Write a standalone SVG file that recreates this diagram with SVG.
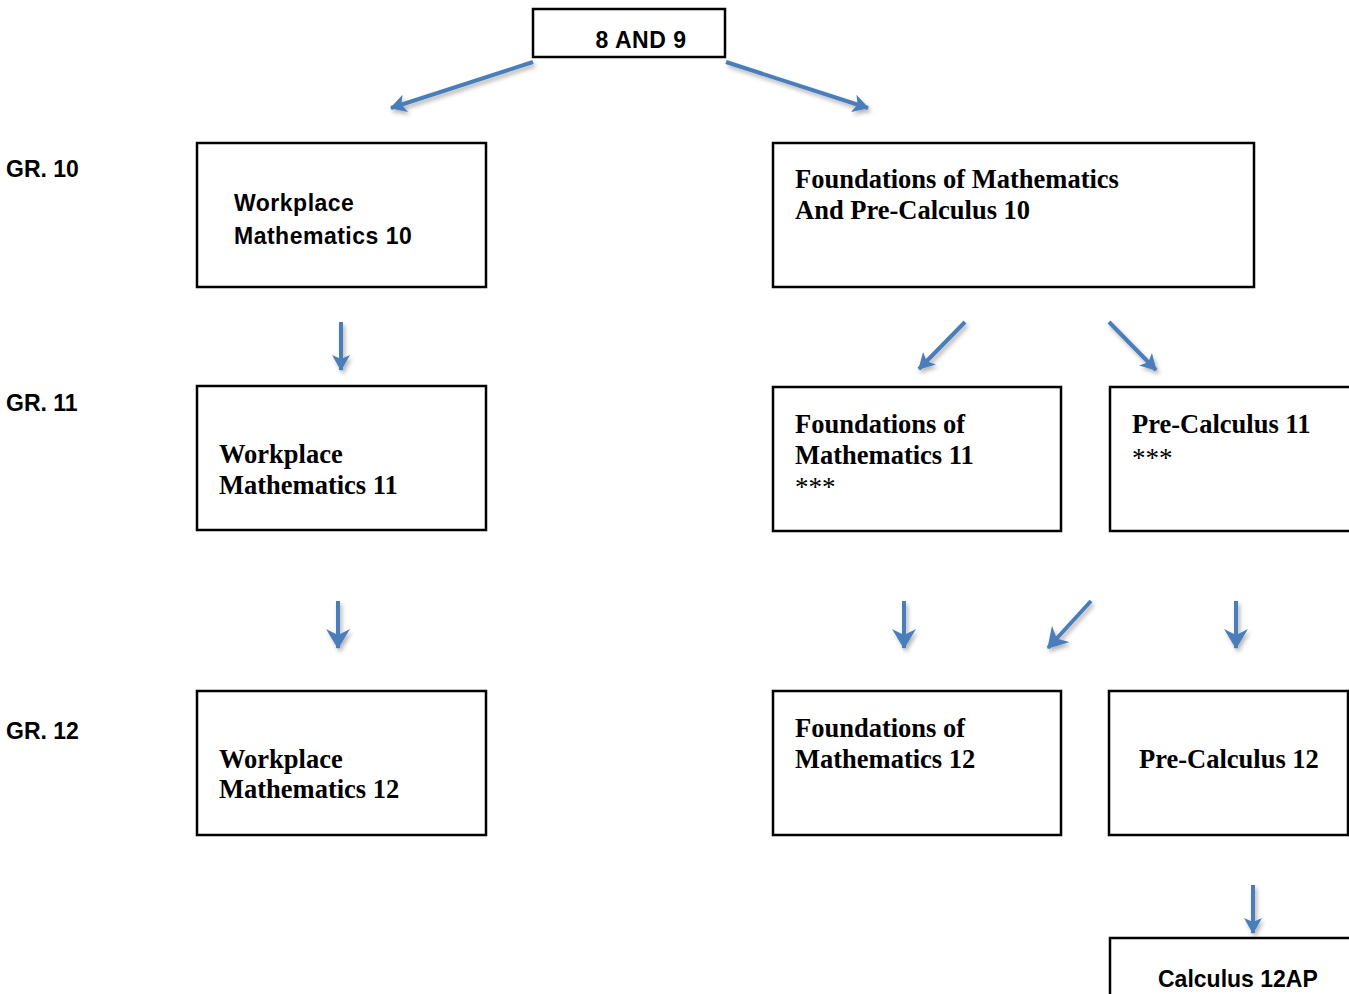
<svg xmlns="http://www.w3.org/2000/svg" width="1349" height="994" viewBox="0 0 1349 994">
<style>
.box{fill:#fff;stroke:#000;stroke-width:2.5}
.sans{font-family:"Liberation Sans",Arial,sans-serif;font-weight:bold;font-size:23px;letter-spacing:0.5px;fill:#000}
.tight{letter-spacing:0}
.serif{font-family:"Liberation Serif","Times New Roman",serif;font-weight:bold;font-size:26.5px;fill:#000}
.ast{font-family:"Liberation Serif","Times New Roman",serif;font-weight:normal;font-size:27px;fill:#000}
.conn line{stroke:#4a7ebb;stroke-width:4;fill:none}
</style>
<defs>
<filter id="sh" filterUnits="userSpaceOnUse" x="0" y="0" width="1349" height="994">
<feDropShadow dx="2" dy="3" stdDeviation="2" flood-color="#000" flood-opacity="0.3"/>
</filter>
<marker id="ah" markerUnits="userSpaceOnUse" viewBox="0 0 16 18" refX="15" refY="9" markerWidth="16" markerHeight="18" orient="auto">
<path d="M0,0 L16,9 L0,18 L4,9 z" fill="#4a7ebb"/>
</marker>
<marker id="ahb" markerUnits="userSpaceOnUse" viewBox="0 0 20 24" refX="19" refY="12" markerWidth="20" markerHeight="24" orient="auto">
<path d="M0,0 L20,12 L0,24 L6,12 z" fill="#4a7ebb"/>
</marker>
</defs>
<rect width="1349" height="994" fill="#fff"/>

<g id="labels">
<text class="sans tight" x="6" y="177">GR. 10</text>
<text class="sans tight" x="6" y="411">GR. 11</text>
<text class="sans tight" x="6" y="739">GR. 12</text>
</g>

<g id="n89"><rect class="box" x="533" y="9" width="192" height="48"/><text class="sans" x="641" y="48" text-anchor="middle">8 AND 9</text></g>
<g id="wp10"><rect class="box" x="197" y="143" width="289" height="144"/><text class="sans" x="234" y="211">Workplace</text><text class="sans" x="234" y="244">Mathematics 10</text></g>
<g id="fp10"><rect class="box" x="773" y="143" width="481" height="144"/><text class="serif" x="795" y="188">Foundations of Mathematics</text><text class="serif" x="795" y="219">And Pre-Calculus 10</text></g>
<g id="wp11"><rect class="box" x="197" y="386" width="289" height="144"/><text class="serif" x="219" y="463">Workplace</text><text class="serif" x="219" y="494">Mathematics 11</text></g>
<g id="fm11"><rect class="box" x="773" y="387" width="288" height="144"/><text class="serif" x="795" y="433">Foundations of</text><text class="serif" x="795" y="464">Mathematics 11</text><text class="ast" x="795" y="496">***</text></g>
<g id="pc11"><rect class="box" x="1110" y="387" width="242" height="144"/><text class="serif" x="1132" y="433">Pre-Calculus 11</text><text class="ast" x="1132" y="467">***</text></g>
<g id="wp12"><rect class="box" x="197" y="691" width="289" height="144"/><text class="serif" x="219" y="768">Workplace</text><text class="serif" x="219" y="798">Mathematics 12</text></g>
<g id="fm12"><rect class="box" x="773" y="691" width="288" height="144"/><text class="serif" x="795" y="737">Foundations of</text><text class="serif" x="795" y="768">Mathematics 12</text></g>
<g id="pc12"><rect class="box" x="1109" y="691" width="239" height="144"/><text class="serif" x="1139" y="768">Pre-Calculus 12</text></g>
<g id="calc"><rect class="box" x="1110" y="938" width="242" height="80"/><text class="sans tight" x="1158" y="987">Calculus 12AP</text></g>

<g id="connectors" class="conn" filter="url(#sh)">
<line x1="533" y1="62" x2="391" y2="108" marker-end="url(#ah)"/>
<line x1="726" y1="62" x2="868" y2="108" marker-end="url(#ah)"/>
<line x1="341" y1="322" x2="341" y2="370" marker-end="url(#ah)"/>
<line x1="965" y1="322" x2="919" y2="369" marker-end="url(#ah)"/>
<line x1="1109" y1="322" x2="1156" y2="370" marker-end="url(#ah)"/>
<line x1="338" y1="601" x2="338" y2="648" marker-end="url(#ahb)"/>
<line x1="904" y1="601" x2="904" y2="648" marker-end="url(#ahb)"/>
<line x1="1091" y1="601" x2="1048" y2="648" marker-end="url(#ahb)"/>
<line x1="1236" y1="601" x2="1236" y2="648" marker-end="url(#ahb)"/>
<line x1="1253" y1="885" x2="1253" y2="933" marker-end="url(#ah)"/>
</g>
</svg>
